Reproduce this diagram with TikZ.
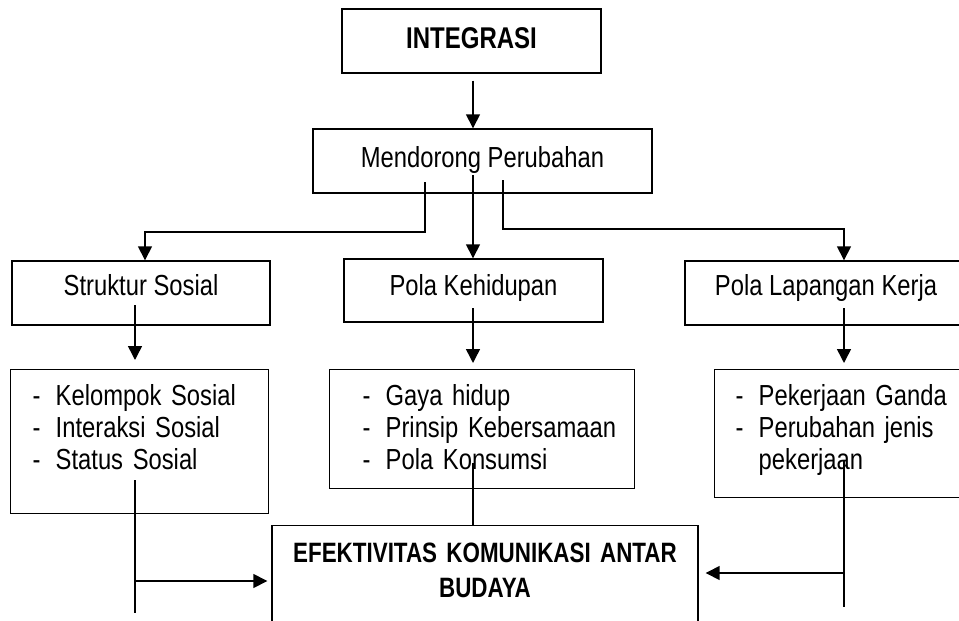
\documentclass[tikz,border=0pt]{standalone}
\usepackage{fontspec}
\setmainfont[FakeStretch=0.82, BoldFeatures={FakeStretch=0.8}]{Liberation Sans}
\usetikzlibrary{arrows.meta}
\newcommand{\butir}[1]{\makebox[23pt][l]{-}\mbox{#1}}
\tikzset{
    x=1pt, y=-1pt, % one unit is one pixel of the sketch, y grows downwards
    >={Triangle[length=14pt, width=14pt]}, % filled triangle heads
    every node/.style={font=\fontsize{29}{32}\selectfont}, % narrow sans text
    box/.style={draw, line width=1.4pt, inner sep=0pt}, % plain framed box
    tbox/.style={box, text height=35pt, text depth=29pt}, % one line of text
    listbox/.style={box, anchor=north west, align=left, inner ysep=0pt, text height=36pt}, % list of points
    arr/.style={->, line width=1.5pt}, % connector with a head
    ln/.style={line width=1.5pt}, % connector without a head
}
\begin{document}
\begin{tikzpicture}
    \useasboundingbox (0,0) rectangle (959,621);
    \node[tbox, minimum width=259pt, text height=39pt, text depth=25pt,
        font=\fontsize{30}{32}\selectfont\bfseries] (integrasi) at (471.5,41) {INTEGRASI};
    \node[tbox, minimum width=339pt, text height=38pt, text depth=26pt] (dorong) at (482.5,161) {Mendorong Perubahan};
    \node[tbox, minimum width=258pt, text height=34pt, text depth=30pt] (struktur) at (141,293) {Struktur Sosial};
    \node[tbox, minimum width=259pt, text height=36pt, text depth=27pt] (hidup) at (473.5,290.5) {Pola Kehidupan};
    \node[tbox, minimum width=282pt, text height=34pt, text depth=30pt] (kerja) at (826,293) {Pola Lapangan Kerja};
    \node[listbox, inner xsep=22pt, text width=214pt, text depth=108pt] (lsos) at (10,369)
        {\butir{Kelompok Sosial}\\ \butir{Interaksi Sosial}\\ \butir{Status Sosial}};
    \node[listbox, inner xsep=33pt, text width=239pt, text depth=83pt] (lhidup) at (329,369)
        {\butir{Gaya hidup}\\ \butir{Prinsip Kebersamaan}\\ \butir{Pola Konsumsi}};
    \node[listbox, inner xsep=21pt, text width=214pt, text depth=92pt] (lkerja) at (714,369)
        {\butir{Pekerjaan Ganda}\\ \butir{Perubahan jenis}\\ \hspace*{23pt}pekerjaan};
    \node[box, anchor=north, align=center, text width=426pt, text height=37pt, text depth=110pt,
        font=\fontsize{28}{35}\selectfont\bfseries] (efektif) at (485,525)
        {EFEKTIVITAS KOMUNIKASI ANTAR\\ BUDAYA};
    % points inside the boxes where the connectors start
    \coordinate (dL) at (425,182);
    \coordinate (dM) at (473,175);
    \coordinate (dR) at (503,180);
    \coordinate (sA) at (135,305);
    \coordinate (hA) at (473,308);
    \coordinate (kA) at (844,308);
    \coordinate (sB) at (135,480);
    \coordinate (sE) at (135,613);
    \coordinate (sJ) at (135,581);
    \coordinate (hB) at (473,463);
    \coordinate (kB) at (844,460);
    \coordinate (kE) at (844,607);
    \coordinate (kJ) at (844,573);
    \draw[arr] ([yshift=-7pt]integrasi.south -| dM) -- (dorong.north -| dM);
    \draw[arr] (dM) -- (hidup.north -| dM);
    \draw[arr] (dL) -- ++(0,50) -| ([xshift=4pt]struktur.north);
    \draw[arr] (dR) -- ++(0,49) -| (kerja.north -| kA);
    \draw[arr] (sA) -- ([yshift=9pt]lsos.north -| sA);
    \draw[arr] (hA) -- ([yshift=6pt]lhidup.north -| hA);
    \draw[arr] (kA) -- ([yshift=6pt]lkerja.north -| kA);
    \draw[ln] (hB) -- (efektif.north -| hB);
    \draw[ln] (sB) -- (sE);
    \draw[arr, shorten >=4pt] (sJ) -- (sJ -| efektif.west);
    \draw[ln] (kB) -- (kE);
    \draw[arr, shorten >=7pt] (kJ) -- (kJ -| efektif.east);
\end{tikzpicture}
\end{document}
